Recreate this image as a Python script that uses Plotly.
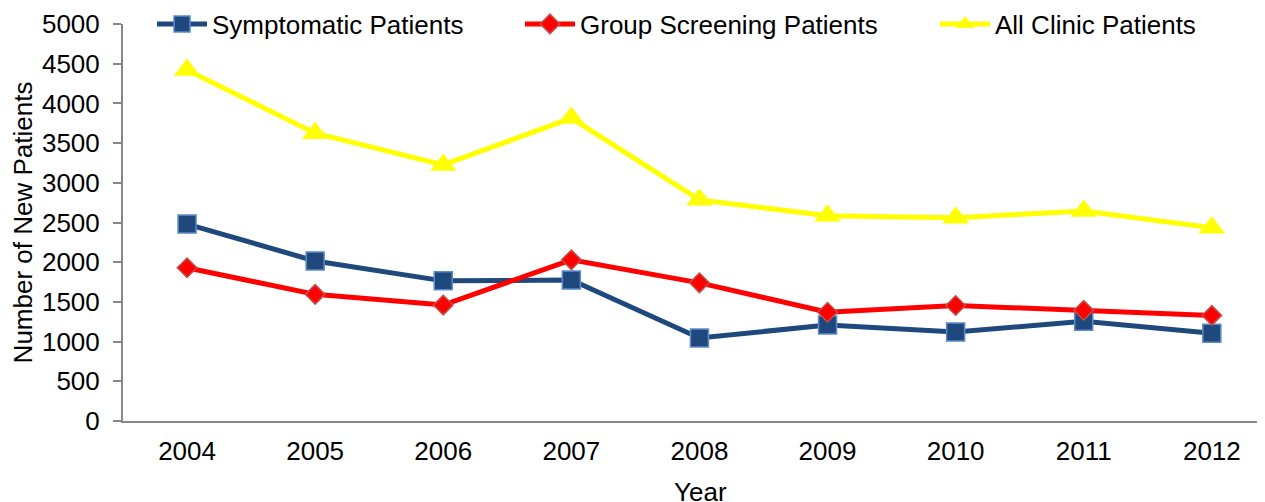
import plotly.graph_objects as go

years = ["2004", "2005", "2006", "2007", "2008", "2009", "2010", "2011", "2012"]
symptomatic = [2480, 2015, 1765, 1775, 1045, 1210, 1120, 1255, 1105]
group_screening = [1930, 1595, 1460, 2030, 1740, 1370, 1455, 1395, 1330]
all_clinic = [4420, 3625, 3225, 3815, 2785, 2585, 2560, 2645, 2435]
y_ticks = [0, 500, 1000, 1500, 2000, 2500, 3000, 3500, 4000, 4500, 5000]

FONT = "Arial, Liberation Sans, sans-serif"
AX = "#868686"

fig = go.Figure()
fig.add_trace(go.Scatter(
    x=years, y=symptomatic, name="Symptomatic Patients", mode="lines+markers",
    line=dict(color="#1F497D", width=5),
    marker=dict(symbol="square", size=18, color="#1F497D", line=dict(color="#5B8BC9", width=1.5)),
    legend="legend", showlegend=True))
fig.add_trace(go.Scatter(
    x=years, y=group_screening, name="Group Screening Patients", mode="lines+markers",
    line=dict(color="#FF0000", width=5),
    marker=dict(symbol="diamond", size=15, color="#FF0000", line=dict(color="#C0504D", width=1.5)),
    legend="legend2", showlegend=True))
fig.add_trace(go.Scatter(
    x=years, y=all_clinic, name="All Clinic Patients", mode="lines+markers",
    line=dict(color="#FFFF00", width=5),
    marker=dict(symbol="triangle-up", size=23, color="#FFFF00", line=dict(width=0)),
    legend="legend3", showlegend=True))

# page body has an 8px margin; compensate so the plot lands where the reference has it
OFF = 8
W, H = 1265, 502
L, R, T, B = 123 - OFF, OFF, 24 - OFF, H - (421 - OFF)
pw = W - L - R

def px2paper(x_screen):
    return (x_screen - OFF - L) / pw

ITEMW = 50
leg_common = dict(font=dict(family=FONT, size=26, color="black"), bgcolor="rgba(0,0,0,0)",
                  yanchor="middle", y=1.0, xanchor="left", orientation="h", visible=True,
                  itemwidth=ITEMW)
TXT = ITEMW + 10

fig.update_layout(
    width=W, height=H, showlegend=True,
    margin=dict(l=L, r=R, t=T, b=B, autoexpand=False),
    paper_bgcolor="white", plot_bgcolor="white",
    font=dict(family=FONT, size=26, color="black"),
    legend=dict(x=px2paper(212 - TXT), **leg_common),
    legend2=dict(x=px2paper(580 - TXT), **leg_common),
    legend3=dict(x=px2paper(995 - TXT), **leg_common),
    xaxis=dict(
        type="category", range=[-0.5, 8.415], showline=True, linecolor=AX, linewidth=2,
        ticks="", showgrid=False, zeroline=False, automargin=False,
        tickfont=dict(family=FONT, size=26, color="black"), ticklabelstandoff=6,
    ),
    yaxis=dict(
        range=[0, 5000], tickvals=y_ticks, showline=True, linecolor=AX, linewidth=2,
        ticks="outside", ticklen=8, tickcolor=AX, tickwidth=2, showgrid=False, zeroline=False,
        automargin=False,
        tickfont=dict(family=FONT, size=26, color="black"), ticklabelstandoff=8,
        title=dict(text="Number of New Patients", font=dict(family=FONT, size=26, color="black"), standoff=8),
    ),
    annotations=[dict(text="Year", xref="paper", yref="paper", x=px2paper(700), y=0,
                      xanchor="center", yanchor="middle", yshift=-71, showarrow=False,
                      font=dict(family=FONT, size=26, color="black"))],
)

fig.write_html("out.html")
